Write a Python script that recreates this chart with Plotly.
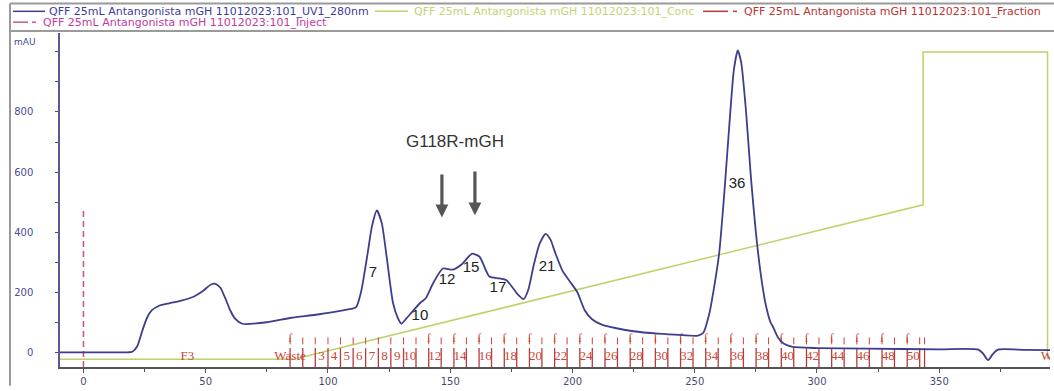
import plotly.graph_objects as go

# ---------------- data ----------------
# UV1_280nm trace (volume mL, mAU)
uv_x = [-9.6, 0, 18, 20, 22, 24, 26, 28, 31, 35, 40, 45, 49, 52, 54, 56, 58, 60, 62, 65, 75, 85, 95, 105,
        110, 111.5, 113.5, 116, 118, 120, 122, 124, 126.6, 128.5, 130, 132, 134.8, 137.7, 140, 143, 147, 151,
        155, 158.8, 162, 166, 170, 173, 177.5, 180, 182, 184, 186.5, 189, 191, 193, 196, 199, 202, 205, 208,
        212, 218, 225, 235, 245, 251, 253.5, 256, 258, 260, 262, 264, 266, 267.6, 269, 271, 273, 275, 277,
        279, 281, 282, 284, 286.5, 290, 300, 320, 350, 366, 368, 370, 372, 374, 385, 395.3]
uv_y = [0, 0, 0, 2, 20, 70, 115, 140, 155, 163, 172, 185, 205, 225, 228, 215, 180, 140, 112, 95, 100, 115, 125, 138,
        145, 150, 200, 318, 420, 472, 430, 318, 164, 115, 95, 112, 138, 164, 180, 230, 279, 275,
        295, 328, 318, 252, 246, 240, 194, 177, 210, 285, 360, 394, 375, 330, 270, 235, 200, 140, 110,
        92, 80, 70, 62, 57, 55, 65, 130, 220, 330, 520, 740, 940, 1005, 965, 800, 580, 400, 260,
        160, 100, 85, 50, 28, 18, 14, 12, 10, 9, -5, -26, -5, 9, 8, 7]

# Conc (gradient) trace
conc_x = [-9.6, 86, 343.4, 343.4, 394.3, 394.3]
conc_y = [-23, -23, 491, 1000, 1000, -23]

# Inject mark
inj_x = [0, 0]
inj_y = [-49, 480]

# Fraction boundaries (mL)
frac_bounds = [84.5, 89.7, 94.8, 100.0, 105.1, 110.3, 115.4, 120.6, 125.7, 130.9, 136.0, 141.2, 146.3,
               151.5, 156.6, 161.8, 166.9, 172.1, 177.2, 182.4, 187.5, 192.7, 197.8, 203.0, 208.1, 213.3,
               218.4, 223.6, 228.7, 233.9, 239.0, 244.2, 249.3, 254.5, 259.6, 264.8, 269.9, 275.1, 280.2,
               285.4, 290.5, 295.7, 300.8, 306.0, 311.1, 316.3, 321.4, 326.6, 331.7, 336.9, 342.0, 344.0]
frac_hook_bounds = [84.5, 141.2, 151.5, 161.8, 172.1, 182.4, 192.7, 203.0, 213.3, 223.6, 233.9, 244.2, 254.5,
                    264.8, 275.1, 285.4, 295.7, 306.0, 316.3, 326.6, 336.9]
frac_labels = ["F3", "Waste", "3", "4", "5", "6", "7", "8", "9", "10", "12", "14", "16", "18", "20", "22",
               "24", "26", "28", "30", "32", "34", "36", "38", "40", "42", "44", "46", "48", "50", "W"]
frac_label_x = [42.5, 84.5, 97.4, 102.5, 107.7, 112.8, 118.0, 123.1, 128.3, 133.4, 143.7, 154.0, 164.3,
                174.6, 184.9, 195.2, 205.5, 215.8, 226.1, 236.4, 246.7, 257.0, 267.3, 277.6, 287.9, 298.2,
                308.5, 318.8, 329.1, 339.4, 394.0]

# Peak labels
peak_labels = ["7", "10", "12", "15", "17", "21", "36"]
peak_x = [118.4, 137.6, 148.7, 158.5, 169.5, 189.6, 267.3]
peak_y = [262, 121, 239, 279, 213, 282, 558]

# Axis ticks
x_ticks = [0, 50, 100, 150, 200, 250, 300, 350]
x_minor = [25, 75, 125, 175, 225, 275, 325, 375]
y_ticks = [0, 100, 200, 300, 400, 500, 600, 700, 800, 900, 1000]
y_ticktext = ["0", "", "200", "", "400", "", "600", "", "800", "", ""]

legend_names = ["QFF 25mL Antangonista mGH 11012023:101_UV1_280nm",
                "QFF 25mL Antangonista mGH 11012023:101_Conc",
                "QFF 25mL Antangonista mGH 11012023:101_Fraction",
                "QFF 25mL Antangonista mGH 11012023:101_Inject"]

# ---------------- style ----------------
W, H = 1054, 391
ML, MR, MT, MB = 60, 4, 33, 19
PW, PH = W - ML - MR, H - MT - MB
XR = [-9.6, 395.3]
YR = [-49, 1063]

C_UV = "#3e3e8c"
C_CONC = "#bfd168"
C_FRAC = "#b83a3a"
C_FRAC_TXT = "#c8463a"
C_INJ = "#c8588c"


def pxx(p):
    return (p - ML) / PW


def pxy(p):
    return (H - MB - p) / PH


fig = go.Figure()

fig.add_trace(go.Scatter(x=conc_x, y=conc_y, mode="lines",
                         line=dict(color=C_CONC, width=1.5), hoverinfo="skip"))
fig.add_trace(go.Scatter(x=inj_x, y=inj_y, mode="lines",
                         line=dict(color=C_INJ, width=1.6, dash="6px,4px"), hoverinfo="skip"))

# fraction bars
fx, fy = [], []
for b in frac_bounds:
    fx += [b, b, None]
    fy += [-49, 14, None]
fig.add_trace(go.Scatter(x=fx, y=fy, mode="lines", line=dict(color=C_FRAC, width=1.3), hoverinfo="skip"))
# small marks above fraction bars
fig.add_trace(go.Scatter(x=frac_bounds, y=[38] * len(frac_bounds), mode="markers",
                         marker=dict(symbol="line-ns", size=5, line=dict(color=C_FRAC_TXT, width=1)),
                         hoverinfo="skip"))
fig.add_trace(go.Scatter(x=frac_hook_bounds, y=[44] * len(frac_hook_bounds), mode="text",
                         text=["ſ"] * len(frac_hook_bounds),
                         textfont=dict(family="Liberation Serif", size=12, color=C_FRAC_TXT),
                         hoverinfo="skip"))
fig.add_trace(go.Scatter(x=frac_label_x, y=[-15] * len(frac_label_x), mode="text", text=frac_labels,
                         textfont=dict(family="Liberation Serif", size=13, color=C_FRAC_TXT),
                         hoverinfo="skip"))

# UV trace
fig.add_trace(go.Scatter(x=uv_x, y=uv_y, mode="lines",
                         line=dict(color=C_UV, width=1.8, shape="spline", smoothing=0.6), hoverinfo="skip"))

# peak labels
fig.add_trace(go.Scatter(x=peak_x, y=peak_y, mode="text", text=peak_labels,
                         textfont=dict(family="Arial, Liberation Sans", size=15, color="#222222"),
                         hoverinfo="skip"))

annotations = []
shapes = []

# G118R-mGH label and arrows
annotations.append(dict(x=152, y=702, xref="x", yref="y", text="G118R-mGH", showarrow=False,
                        font=dict(family="Arial, Liberation Sans", size=17, color="#333333")))
for ax_, tip, tail in [(146.6, 449, 597), (160.1, 456, 607)]:
    annotations.append(dict(x=ax_, y=tip, ax=ax_, ay=tail, xref="x", yref="y", axref="x", ayref="y",
                            text="", showarrow=True, arrowhead=2, arrowsize=0.8, arrowwidth=3.2,
                            arrowcolor="#555555"))

# mAU label
annotations.append(dict(x=pxx(25), y=pxy(42), xref="paper", yref="paper", text="mAU", showarrow=False,
                        xanchor="center", yanchor="middle",
                        font=dict(family="DejaVu Sans", size=9, color="#4a4a9a")))

# legend box
LEG_FONT = "DejaVu Sans"
legend_rows = [
    (13, 45, None, 48, 11, C_UV, legend_names[0], "#3c3ca0"),
    (375, 408, None, 413, 11, C_CONC, legend_names[1], "#c4d472"),
    (703, 728, (733, 737), 743, 11, C_FRAC, legend_names[2], "#c03030"),
    (13, 28, (32, 36), 42, 22, C_INJ, legend_names[3], "#c03aa0"),
]
for x0, x1, extra, tx, ry, col, name, tcol in legend_rows:
    shapes.append(dict(type="line", xref="paper", yref="paper", x0=pxx(x0), x1=pxx(x1),
                       y0=pxy(ry), y1=pxy(ry), line=dict(color=col, width=1.5)))
    if extra:
        shapes.append(dict(type="line", xref="paper", yref="paper", x0=pxx(extra[0]), x1=pxx(extra[1]),
                           y0=pxy(ry), y1=pxy(ry), line=dict(color=col, width=1.5)))
    annotations.append(dict(x=pxx(tx), y=pxy(ry), xref="paper", yref="paper", text=name, showarrow=False,
                            xanchor="left", yanchor="middle", borderpad=0,
                            font=dict(family=LEG_FONT, size=11, color=tcol)))

# frame lines
shapes.append(dict(type="line", xref="paper", yref="paper", x0=pxx(10), x1=pxx(10),
                   y0=pxy(3), y1=pxy(391), line=dict(color="#9a9a9a", width=2)))
shapes.append(dict(type="line", xref="paper", yref="paper", x0=pxx(10), x1=pxx(1054),
                   y0=pxy(3), y1=pxy(3), line=dict(color="#9a9a9a", width=2)))
shapes.append(dict(type="line", xref="paper", yref="paper", x0=pxx(10), x1=pxx(1054),
                   y0=pxy(31), y1=pxy(31), line=dict(color="#9a9a9a", width=2)))

fig.update_layout(
    width=W, height=H,
    margin=dict(l=ML, r=MR, t=MT, b=MB, pad=0),
    paper_bgcolor="white", plot_bgcolor="white",
    showlegend=False,
    annotations=annotations, shapes=shapes,
    xaxis=dict(range=XR, tickvals=x_ticks, ticks="outside", ticklen=4, tickcolor="#555555",
               showline=True, linecolor="#555555", linewidth=2, showgrid=False, zeroline=False,
               tickfont=dict(family="DejaVu Sans", size=10, color="#4a4a78"),
               minor=dict(tickvals=x_minor, ticks="outside", ticklen=3, tickcolor="#555555")),
    yaxis=dict(range=YR, tickvals=y_ticks, ticktext=y_ticktext, ticks="outside", ticklen=3,
               tickcolor="#4a4a90", showline=True, linecolor="#5a5a90", linewidth=1.5, showgrid=False,
               zeroline=False, ticklabelstandoff=20,
               tickfont=dict(family="DejaVu Sans", size=10, color="#4a4a9a")),
)

fig.write_html("out.html")
